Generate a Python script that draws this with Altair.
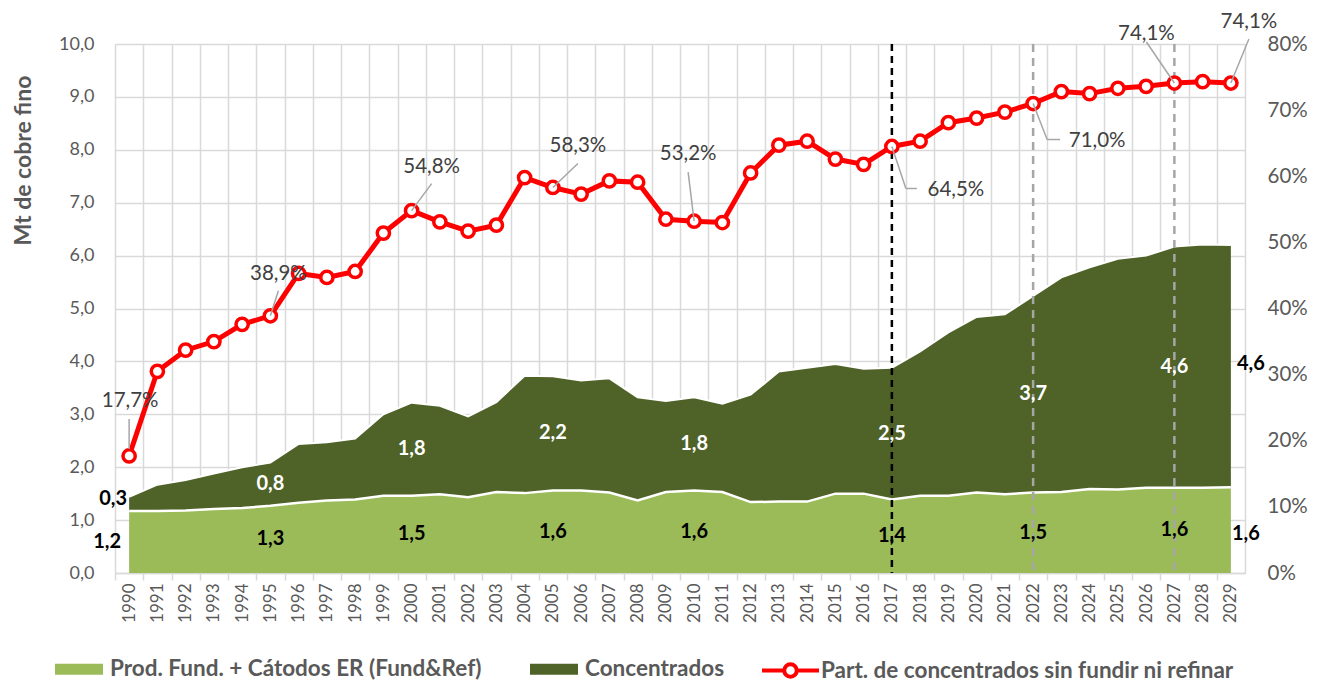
import altair as alt
import pandas as pd

# ---------------- data ----------------
years = list(range(1990, 2030))
fund = [1.17, 1.17, 1.18, 1.21, 1.23, 1.27, 1.33, 1.37, 1.39, 1.46,
        1.46, 1.49, 1.43, 1.53, 1.51, 1.56, 1.56, 1.52, 1.37, 1.53,
        1.56, 1.53, 1.34, 1.35, 1.35, 1.50, 1.50, 1.39, 1.46, 1.46,
        1.52, 1.49, 1.52, 1.53, 1.59, 1.58, 1.61, 1.61, 1.61, 1.62]
conc = [0.27, 0.50, 0.58, 0.67, 0.77, 0.82, 1.11, 1.10, 1.15, 1.54,
        1.76, 1.67, 1.53, 1.70, 2.22, 2.16, 2.08, 2.16, 1.95, 1.72,
        1.76, 1.67, 2.03, 2.46, 2.53, 2.45, 2.36, 2.49, 2.73, 3.09,
        3.32, 3.40, 3.72, 4.06, 4.19, 4.36, 4.39, 4.56, 4.60, 4.58]
pct = [17.7, 30.5, 33.7, 35.0, 37.6, 38.9, 45.3, 44.7, 45.6, 51.4,
       54.8, 53.1, 51.7, 52.6, 59.8, 58.3, 57.3, 59.3, 59.1, 53.5,
       53.2, 53.0, 60.5, 64.7, 65.3, 62.6, 61.8, 64.5, 65.3, 68.1,
       68.8, 69.7, 71.0, 72.8, 72.5, 73.3, 73.6, 74.1, 74.3, 74.1]

S_FUND = "Prod. Fund. + Cátodos ER (Fund&Ref)"
S_CONC = "Concentrados"
S_PCT = "Part. de concentrados sin fundir ni refinar"

label_years = [1990, 1995, 2000, 2005, 2010, 2017, 2022, 2027, 2029]
milestone_black = [2017]
milestone_gray = [2022, 2027]
left_ticks = list(range(0, 11))
right_ticks = list(range(0, 81, 10))

df = pd.DataFrame({"year": years, "fund": fund, "conc": conc, "pct": pct})

# ---------------- styles ----------------
W, H = 1130, 529
HALF = W / 40 / 2
GRID = "#d9d9d9"
TXT = "#595959"
LIGHT = "#9BBB59"
DARK = "#4F6228"
RED = "#FF0000"
FONT = "Lato"

xscale = alt.Scale(domain=[1989.5, 2029.5], nice=False, zero=False)
yl = alt.Scale(domain=[0, 10], nice=False)
yr = alt.Scale(domain=[0, 80], nice=False)

x_axis = alt.Axis(values=years, format="d", tickOffset=-HALF, labelOffset=HALF, labelAngle=-90,
                  labelFontSize=17, labelColor=TXT, labelFont=FONT, labelPadding=3,
                  grid=True, gridColor=GRID, gridWidth=1.5,
                  ticks=True, tickColor=GRID, tickWidth=1.5, tickSize=7,
                  domain=True, domainColor=GRID, domainWidth=1.5, title=None)

yl_axis = alt.Axis(values=left_ticks,
                   labelExpr="replace(format(datum.value, '.1f'), '.', ',')",
                   labelFontSize=18, labelColor=TXT, labelFont=FONT, labelPadding=21,
                   grid=True, gridColor=GRID, gridWidth=1.5, domain=False, ticks=False,
                   title="Mt de cobre fino", titleFont=FONT, titleFontSize=23,
                   titleFontWeight="bold", titleColor=TXT, titleAngle=-90,
                   titleX=-92, titleY=116, titleAlign="center", titleBaseline="middle")

yr_axis = alt.Axis(orient="right", values=right_ticks, labelExpr="datum.value + '%'",
                   labelFontSize=20.5, labelColor=TXT, labelFont=FONT, labelPadding=22,
                   grid=False, ticks=False, domain=True, domainColor=GRID, domainWidth=1.5,
                   title=None)


def X():
    return alt.X("year:Q", scale=xscale, axis=x_axis, title=None)


def YL(field):
    return alt.Y(field, scale=yl, axis=yl_axis, title="Mt de cobre fino")


def YR(field):
    return alt.Y(field, scale=yr, axis=yr_axis, title=None)


base = alt.Chart(df).transform_calculate(
    total="datum.fund + datum.conc",
    fmid="datum.fund / 2",
    cmid="datum.fund + datum.conc / 2",
    flab="replace(format(datum.fund, '.1f'), '.', ',')",
    clab="replace(format(datum.conc, '.1f'), '.', ',')",
    plab="replace(format(datum.pct, '.1f'), '.', ',') + '%'",
)

fill_legend = alt.Legend(title=None, orient="none", legendX=-60, legendY=601,
                         direction="horizontal", symbolType="M-1,-0.23H1V0.23H-1Z",
                         symbolSize=2304, symbolStrokeWidth=0, labelFont=FONT,
                         labelFontSize=22.5, labelFontWeight="bold", labelColor=TXT,
                         labelOffset=7, columnPadding=48, labelLimit=1000)
stroke_legend = alt.Legend(title=None, orient="none", legendX=645, legendY=596,
                           direction="horizontal",
                           symbolType="M-1,0H-0.22M0.22,0H1M0.22,0A0.22,0.22,0,1,1,-0.22,0A0.22,0.22,0,1,1,0.22,0",
                           symbolSize=3249, symbolStrokeWidth=4, symbolFillColor="white",
                           labelFont=FONT, labelFontSize=22.5, labelFontWeight="bold",
                           labelColor=TXT, labelOffset=0, labelLimit=1000)

fill_scale = alt.Scale(domain=[S_FUND, S_CONC], range=[LIGHT, DARK])

# ---------------- left (Mt) layers ----------------
fund_area = base.transform_calculate(serie=f"'{S_FUND}'").mark_area(opacity=1).encode(
    x=X(), y=YL("fund:Q"), y2=alt.datum(0),
    fill=alt.Fill("serie:N", scale=fill_scale, legend=fill_legend))
conc_area = base.transform_calculate(serie=f"'{S_CONC}'").mark_area(opacity=1).encode(
    x=X(), y=YL("total:Q"), y2="fund:Q",
    fill=alt.Fill("serie:N", scale=fill_scale, legend=fill_legend))
fund_edge = base.mark_line(color="white", strokeWidth=2.5).encode(x=X(), y=YL("fund:Q"))
total_edge = base.mark_line(color="white", strokeWidth=2).encode(x=X(), y=YL("total:Q"))

rule_black = base.transform_filter(
    alt.FieldOneOfPredicate(field="year", oneOf=milestone_black)).mark_rule(
    color="black", strokeWidth=2.5, strokeDash=[7, 5]).encode(
    x=X(), y=alt.datum(10, scale=yl, axis=yl_axis, title="Mt de cobre fino"), y2=alt.datum(0))
rule_gray = base.transform_filter(
    alt.FieldOneOfPredicate(field="year", oneOf=milestone_gray)).mark_rule(
    color="#a6a6a6", strokeWidth=2.5, strokeDash=[8, 6]).encode(
    x=X(), y=alt.datum(10, scale=yl, axis=yl_axis, title="Mt de cobre fino"), y2=alt.datum(0))

# area value labels: (fund dx, fund dy, conc dx, conc dy, conc colour)
area_lab_style = {1990: (-22, 0, -16, -5, "black"), 2029: (15, 4, 20, -2, "black")}
area_labels = []
for yr_ in label_years:
    fdx, fdy, cdx, cdy, ccol = area_lab_style.get(yr_, (0, 0, 0, 0, "white"))
    one = base.transform_filter(alt.datum.year == yr_)
    area_labels.append(one.mark_text(font=FONT, fontSize=20, fontWeight="bold", color="black",
                                     dx=fdx, dy=fdy, baseline="middle").encode(
        x=X(), y=YL("fmid:Q"), text="flab:N"))
    area_labels.append(one.mark_text(font=FONT, fontSize=20, fontWeight="bold", color=ccol,
                                     dx=cdx, dy=cdy, baseline="middle").encode(
        x=X(), y=YL("cmid:Q"), text="clab:N"))

left = alt.layer(fund_area, conc_area, fund_edge, total_edge, rule_black, rule_gray, *area_labels)

# ---------------- right (%) layers ----------------
pct_line = base.transform_calculate(serie=f"'{S_PCT}'").mark_line(strokeWidth=5).encode(
    x=X(), y=YR("pct:Q"),
    stroke=alt.Stroke("serie:N", scale=alt.Scale(domain=[S_PCT], range=[RED]), legend=stroke_legend))
pct_pts = base.mark_point(shape="circle", filled=True, fill="white", stroke=RED, strokeWidth=3.5,
                          size=150, opacity=1).encode(x=X(), y=YR("pct:Q"))

leaders = {1990: [(0, -7, 0, -37)], 1995: [(0, 0, 8, -25)], 2000: [(0, 0, 20, -27)],
           2005: [(0, 0, 25, -24)], 2010: [(0, 0, -6, -49)],
           2017: [(0, 0, 14, 42), (14, 42, 25, 42)], 2022: [(0, 0, 14, 36), (14, 36, 27, 36)],
           2027: [(0, 0, -28, -41)], 2029: [(0, 0, 18, -44)]}
pct_lab_off = {1990: (1, -55), 1995: (8, -42), 2000: (20, -44), 2005: (25, -41),
               2010: (-6, -67), 2017: (64, 44), 2022: (64, 37), 2027: (-28, -49), 2029: (18, -61)}
right_extra = []
for yr_ in label_years:
    one = base.transform_filter(alt.datum.year == yr_)
    for (x0, y0, x1, y1) in leaders[yr_]:
        right_extra.append(one.mark_rule(color="#a6a6a6", strokeWidth=1.5, xOffset=x0, yOffset=y0,
                                         x2Offset=x1, y2Offset=y1).encode(
            x=X(), x2="year:Q", y=YR("pct:Q"), y2="pct:Q"))
    dx, dy = pct_lab_off[yr_]
    right_extra.append(one.mark_text(font=FONT, fontSize=20.5, color="#404040", dx=dx, dy=dy,
                                     baseline="middle").encode(
        x=X(), y=YR("pct:Q"), text="plab:N"))

right = alt.layer(pct_line, pct_pts, *right_extra)

chart = alt.layer(left, right).resolve_scale(y="independent").properties(
    width=W, height=H,
    autosize=alt.AutoSizeParams(type="none"),
    padding={"left": 107, "top": 36, "right": 73, "bottom": 110},
).configure(font=FONT).configure_view(stroke=None)

chart.save("out.html", embed_options={"renderer": "svg", "actions": False})
